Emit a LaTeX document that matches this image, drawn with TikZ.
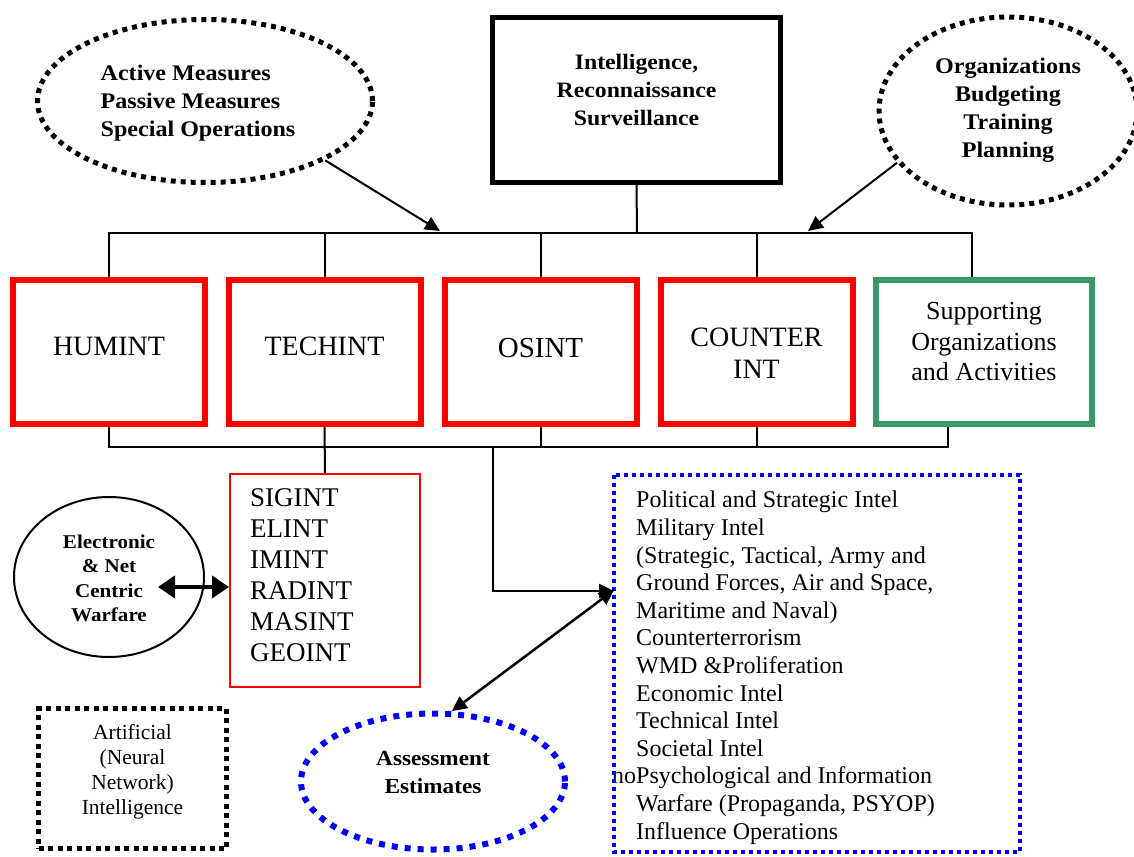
\documentclass[tikz,border=0pt]{standalone}
\usepackage{fontspec}
\setmainfont{Liberation Serif}
\newfontfamily\hdfont[FakeStretch=1.08]{Liberation Serif}
\usetikzlibrary{shapes.geometric,arrows.meta,calc}
\definecolor{boxred}{RGB}{255,0,0}
\definecolor{boxgreen}{RGB}{56,154,104}
\definecolor{dotblue}{RGB}{0,0,255}
% font helpers: size / baselineskip
\newcommand{\hdbf}[2]{\fontsize{#1}{#2}\selectfont\hdfont\bfseries}
\newcommand{\rmtxt}[2]{\fontsize{#1}{#2}\selectfont\rmfamily}
% move text up inside its node without changing the node size
\newcommand{\lift}[2]{\raisebox{#1}[\height][\depth]{#2}}
\begin{document}
\begin{tikzpicture}[x=1pt,y=-1pt,
  every node/.style={inner sep=0pt},
  bus/.style={line width=2pt},
  arr/.style={line width=2pt,-{Triangle[length=15pt,width=14pt]}},
  dblarr/.style={line width=2.5pt,{Triangle[length=15pt,width=14pt]}-{Triangle[length=15pt,width=14pt]}},
  fatarr/.style={line width=4pt,{Triangle[length=17pt,width=22pt]}-{Triangle[length=17pt,width=22pt]}},
  topbox/.style={draw,line width=5pt,minimum width=288pt,minimum height=165pt},
  redbox/.style={draw=boxred,line width=6pt,minimum width=192pt,minimum height=144pt},
  greenbox/.style={draw=boxgreen,line width=6pt,minimum width=216pt,minimum height=144pt},
  dotblack/.style={draw,line width=5pt,dash pattern=on 5pt off 5pt},
  dotblue/.style={draw=dotblue,line width=6pt,dash pattern=on 6pt off 7pt},
  listframe/.style={draw=dotblue,line width=4pt,dash pattern=on 4pt off 4pt},
]
\useasboundingbox (0,0) rectangle (1134,856);

% --- top row: measures, ISR, organisation
\node[dotblack,ellipse,minimum width=335pt,minimum height=163pt] (tl) at (205,101)
  {\hspace*{-14pt}\lift{-2pt}{\hdbf{22.3}{28}\begin{tabular}{@{}l@{}}Active Measures\\Passive Measures\\Special Operations\end{tabular}}};
\node[topbox] (irs) at (636.5,100)
  {\lift{8pt}{\hdbf{22}{28}\begin{tabular}{@{}c@{}}Intelligence,\\Reconnaissance\\Surveillance\end{tabular}}};
\node[dotblack,ellipse,minimum width=258pt,minimum height=188pt] (tr) at (1008,111)
  {\lift{1pt}{\hdbf{22.3}{28}\begin{tabular}{@{}c@{}}Organizations\\Budgeting\\Training\\Planning\end{tabular}}};

% --- discipline boxes
\node[redbox] (hum) at (109,352) {\lift{6pt}{\rmtxt{28}{32}HUMINT}};
\node[redbox] (tec) at (324.5,352) {\lift{6pt}{\rmtxt{28}{32}TECHINT}};
\node[redbox] (osi) at (540.5,352) {\lift{4pt}{\rmtxt{29}{32}OSINT}};
\node[redbox] (cou) at (756.5,352)
  {\lift{-4pt}{\rmtxt{28}{32}\begin{tabular}{@{}c@{}}COUNTER\\INT\end{tabular}}};
\node[greenbox] (sup) at (984,352)
  {\lift{8pt}{\rmtxt{26}{30.5}\begin{tabular}{@{}c@{}}Supporting\\Organizations\\and Activities\end{tabular}}};

% --- upper bus
\coordinate (bt) at (637,233);
\coordinate (btr) at (972,233);
\draw[bus] (irs.south) -- (bt);
\draw[bus] (hum.north) |- (btr) -- (btr |- sup.north);
\foreach \n in {tec,osi,cou} \draw[bus] (\n.north) -- (\n.north |- bt);
\coordinate (tlend) at (440,231);
\coordinate (trend) at (808,231);
\draw[arr] (tl.south east) -- (tlend);
\draw[arr] (tr.205) -- (trend);

% --- technical collection list
\node[draw=boxred,line width=2pt,minimum width=190pt,minimum height=213pt] (sig) at (325,580.5) {};
\node[anchor=west] (sigtxt) at ($(sig.west)+(21,-2.3)$)
  {\rmtxt{27}{31}\begin{tabular}{@{}l@{}}SIGINT\\ELINT\\IMINT\\RADINT\\MASINT\\GEOINT\end{tabular}};

% --- electronic warfare
\node[draw,ellipse,line width=2pt,minimum width=190pt,minimum height=160pt] (ew) at (109,577)
  {\lift{-3pt}{\hdbf{19.5}{24.5}\begin{tabular}{@{}c@{}}Electronic\\\& Net\\Centric\\Warfare\end{tabular}}};
\coordinate (ewtip) at (158,587);
\draw[fatarr] (ewtip) -- (sig.west |- ewtip);

% --- lower bus
\coordinate (bb) at (948,447);
\draw[bus] (hum.south) |- (bb) -- (bb |- sup.south);
\draw[bus] (osi.south) -- (osi.south |- bb);
\draw[bus] (cou.south) -- (cou.south |- bb);
\draw[bus] (tec.south) -- (sig.north);

% --- intelligence products list
\node[minimum width=406pt,minimum height=377pt,outer sep=0pt] (list) at (817,663.5) {};
\node[anchor=west] (listtxt) at ($(list.west)+(22,4.5)$)
  {\rmtxt{24}{27.6}\begin{tabular}{@{}l@{}}
  Political and Strategic Intel\\
  Military Intel\\
  (Strategic, Tactical, Army and\\
  Ground Forces, Air and Space,\\
  Maritime and Naval)\\
  Counterterrorism\\
  WMD \&Proliferation\\
  Economic Intel\\
  Technical Intel\\
  Societal Intel\\
  \llap{no}Psychological and Information\\
  Warfare (Propaganda, PSYOP)\\
  Influence Operations
  \end{tabular}};
\draw[listframe] (list.north west) rectangle (list.south east);

\coordinate (ob) at (493,447);
\coordinate (oc) at (493,591);
\draw[arr,line width=2.5pt] (ob) -- (oc) -- (oc -| list.west);

% --- assessment
\node[dotblue,ellipse,minimum width=264pt,minimum height=136pt] (ae) at (433,781.5)
  {\lift{8pt}{\hdbf{21.5}{28}\begin{tabular}{@{}c@{}}Assessment\\Estimates\end{tabular}}};
\draw[dblarr] (ae.75) -- (list.west |- 0,590);

% --- artificial intelligence
\node[dotblack,dash pattern=on 5pt off 4.5pt,minimum width=188pt,minimum height=140pt] (ai) at (132.5,778.5)
  {\lift{7pt}{\rmtxt{21.5}{25}\begin{tabular}{@{}c@{}}Artificial\\(Neural\\Network)\\Intelligence\end{tabular}}};
\end{tikzpicture}
\end{document}
